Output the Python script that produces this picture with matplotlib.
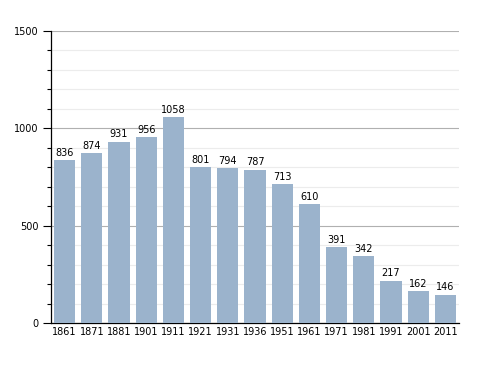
import matplotlib.pyplot as plt
import numpy as np
from matplotlib.ticker import MultipleLocator

years = ["1861", "1871", "1881", "1901", "1911", "1921", "1931", "1936",
         "1951", "1961", "1971", "1981", "1991", "2001", "2011"]
population = [836, 874, 931, 956, 1058, 801, 794, 787, 713, 610, 391, 342, 217, 162, 146]

BAR = "#9bb3cc"

fig = plt.figure(figsize=(4.88, 3.73), dpi=100)
ax = fig.add_axes([51 / 488, 1 - 323 / 373, 408 / 488, 292 / 373])

x = np.arange(len(years))
ax.bar(x, population, width=0.78, color=BAR, zorder=3)
for xi, v in zip(x, population):
    ax.text(xi, v + 12, str(v), ha="center", va="bottom", fontsize=7, zorder=4)

ax.set_xlim(-0.5, len(years) - 0.5)
ax.set_ylim(0, 1500)
ax.yaxis.set_major_locator(MultipleLocator(500))
ax.yaxis.set_minor_locator(MultipleLocator(100))
ax.grid(axis="y", which="minor", color="#ececec", linewidth=0.8, zorder=0)
ax.grid(axis="y", which="major", color="#b0b0b0", linewidth=0.8, zorder=1)

ax.set_xticks(x)
ax.set_xticklabels(years)
ax.tick_params(axis="x", length=0, labelsize=7, pad=3)
ax.tick_params(axis="y", which="major", length=6, width=0.8, labelsize=7, pad=3)
ax.tick_params(axis="y", which="minor", length=3, width=0.8)

for s in ("top", "right"):
    ax.spines[s].set_visible(False)
ax.spines["left"].set_linewidth(0.9)
ax.spines["bottom"].set_linewidth(0.9)

fig.savefig("out.png", dpi=100)
